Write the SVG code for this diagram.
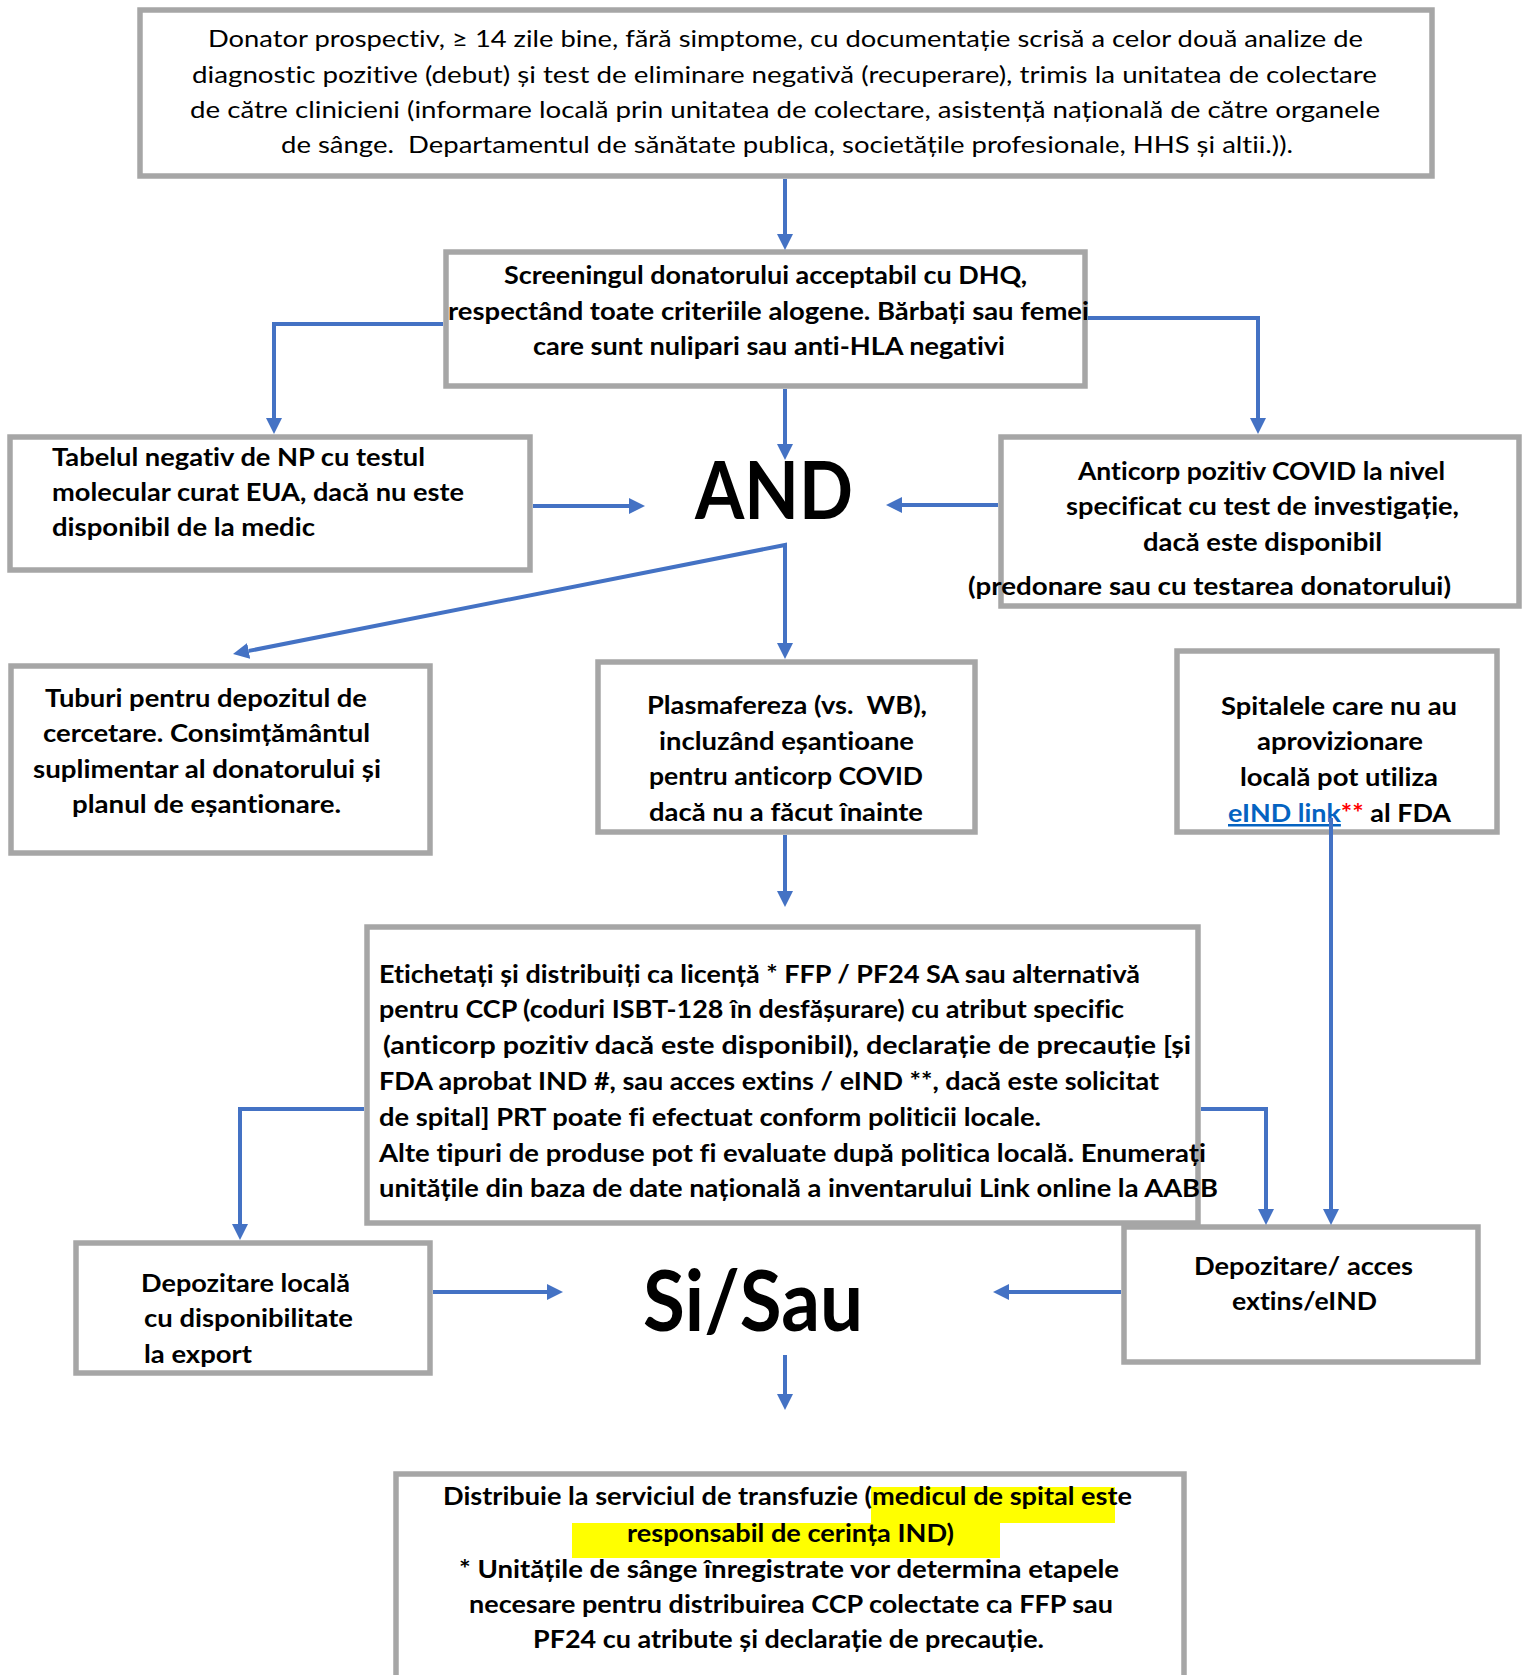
<svg xmlns="http://www.w3.org/2000/svg" width="1526" height="1675" viewBox="0 0 1526 1675">
<style>
.box{fill:#fff;stroke:#A6A6A6;stroke-width:5.5}
text{font-family:Lato,"Liberation Sans",sans-serif;fill:#000;font-variant-ligatures:none}
.r{font-size:24px;font-weight:400}
.b{font-size:25px;font-weight:700}
.big{font-weight:700}
.conn{fill:none;stroke:#4472C4;stroke-width:4;marker-end:url(#ah)}
.hl{fill:#FFFF00}
</style>
<defs>
<marker id="ah" viewBox="0 0 16 16" refX="0" refY="8" markerWidth="16" markerHeight="16" markerUnits="userSpaceOnUse" orient="auto-start-reverse">
<path d="M0,0 L16,8 L0,16 z" fill="#4472C4"/>
</marker>
</defs>
<rect width="1526" height="1675" fill="#fff"/>

<g id="n-donor">
<rect class="box" x="140" y="10" width="1292" height="166"/>
<text class="r" x="208" y="47" textLength="1155" lengthAdjust="spacingAndGlyphs">Donator prospectiv, ≥ 14 zile bine, fără simptome, cu documentație scrisă a celor două analize de</text>
<text class="r" x="192" y="83" textLength="1185" lengthAdjust="spacingAndGlyphs">diagnostic pozitive (debut) și test de eliminare negativă (recuperare), trimis la unitatea de colectare</text>
<text class="r" x="190" y="118" textLength="1190" lengthAdjust="spacingAndGlyphs">de către clinicieni (informare locală prin unitatea de colectare, asistență națională de către organele</text>
<text class="r" x="281" y="153" textLength="1012" lengthAdjust="spacingAndGlyphs" xml:space="preserve">de sânge.  Departamentul de sănătate publica, societățile profesionale, HHS și altii.)).</text>
</g>

<g id="n-screening">
<rect class="box" x="446" y="252" width="639" height="134"/>
<text class="b" x="504" y="284" textLength="523" lengthAdjust="spacingAndGlyphs">Screeningul donatorului acceptabil cu DHQ,</text>
<text class="b" x="448" y="320" textLength="641" lengthAdjust="spacingAndGlyphs">respectând toate criteriile alogene. Bărbați sau femei</text>
<text class="b" x="533" y="355" textLength="472" lengthAdjust="spacingAndGlyphs">care sunt nulipari sau anti-HLA negativi</text>
</g>

<g id="n-tabelul">
<rect class="box" x="10" y="437" width="520" height="133"/>
<text class="b" x="52" y="466" textLength="373" lengthAdjust="spacingAndGlyphs">Tabelul negativ de NP cu testul</text>
<text class="b" x="52" y="501" textLength="412" lengthAdjust="spacingAndGlyphs">molecular curat EUA, dacă nu este</text>
<text class="b" x="52" y="536" textLength="263" lengthAdjust="spacingAndGlyphs">disponibil de la medic</text>
</g>

<g id="n-and">
<text class="big" x="695" y="519" font-size="80" textLength="158" lengthAdjust="spacingAndGlyphs">AND</text>
</g>

<g id="n-anticorp">
<rect class="box" x="1001" y="437" width="518" height="169"/>
<text class="b" x="1078" y="480" textLength="367" lengthAdjust="spacingAndGlyphs">Anticorp pozitiv COVID la nivel</text>
<text class="b" x="1066" y="515" textLength="393" lengthAdjust="spacingAndGlyphs">specificat cu test de investigație,</text>
<text class="b" x="1143" y="551" textLength="239" lengthAdjust="spacingAndGlyphs">dacă este disponibil</text>
<text class="b" x="968" y="595" textLength="483" lengthAdjust="spacingAndGlyphs">(predonare sau cu testarea donatorului)</text>
</g>

<g id="n-tuburi">
<rect class="box" x="11" y="666" width="419" height="187"/>
<text class="b" x="45" y="707" textLength="322" lengthAdjust="spacingAndGlyphs">Tuburi pentru depozitul de</text>
<text class="b" x="43" y="742" textLength="327" lengthAdjust="spacingAndGlyphs">cercetare. Consimțământul</text>
<text class="b" x="33" y="778" textLength="348" lengthAdjust="spacingAndGlyphs">suplimentar al donatorului și</text>
<text class="b" x="72" y="813" textLength="269" lengthAdjust="spacingAndGlyphs">planul de eșantionare.</text>
</g>

<g id="n-plasma">
<rect class="box" x="598" y="662" width="377" height="170"/>
<text class="b" x="647" y="714" textLength="280" lengthAdjust="spacingAndGlyphs" xml:space="preserve">Plasmafereza (vs.  WB),</text>
<text class="b" x="659" y="750" textLength="255" lengthAdjust="spacingAndGlyphs">incluzând eșantioane</text>
<text class="b" x="649" y="785" textLength="274" lengthAdjust="spacingAndGlyphs">pentru anticorp COVID</text>
<text class="b" x="649" y="821" textLength="274" lengthAdjust="spacingAndGlyphs">dacă nu a făcut înainte</text>
</g>

<g id="n-spitalele">
<rect class="box" x="1177" y="651" width="320" height="181"/>
<text class="b" x="1221" y="715" textLength="236" lengthAdjust="spacingAndGlyphs">Spitalele care nu au</text>
<text class="b" x="1257" y="750" textLength="166" lengthAdjust="spacingAndGlyphs">aprovizionare</text>
<text class="b" x="1240" y="786" textLength="198" lengthAdjust="spacingAndGlyphs">locală pot utiliza</text>
<text class="b" x="1228" y="822" textLength="223" lengthAdjust="spacingAndGlyphs"><tspan fill="#0563C1" text-decoration="underline">eIND link</tspan><tspan fill="#FF0000">**</tspan> al FDA</text>
</g>

<g id="n-etichetati">
<rect class="box" x="367" y="927" width="831" height="296"/>
<text class="b" x="379" y="983" textLength="761" lengthAdjust="spacingAndGlyphs">Etichetați și distribuiți ca licență * FFP / PF24 SA sau alternativă</text>
<text class="b" x="379" y="1018" textLength="745" lengthAdjust="spacingAndGlyphs">pentru CCP (coduri ISBT-128 în desfășurare) cu atribut specific</text>
<text class="b" x="383" y="1054" textLength="808" lengthAdjust="spacingAndGlyphs">(anticorp pozitiv dacă este disponibil), declarație de precauție [și</text>
<text class="b" x="379" y="1090" textLength="780" lengthAdjust="spacingAndGlyphs">FDA aprobat IND #, sau acces extins / eIND **, dacă este solicitat</text>
<text class="b" x="379" y="1126" textLength="662" lengthAdjust="spacingAndGlyphs">de spital] PRT poate fi efectuat conform politicii locale.</text>
<text class="b" x="379" y="1162" textLength="827" lengthAdjust="spacingAndGlyphs">Alte tipuri de produse pot fi evaluate după politica locală. Enumerați</text>
<text class="b" x="379" y="1197" textLength="839" lengthAdjust="spacingAndGlyphs">unitățile din baza de date națională a inventarului Link online la AABB</text>
</g>

<g id="n-depozitare-locala">
<rect class="box" x="76" y="1243" width="354" height="130"/>
<text class="b" x="141" y="1292" textLength="209" lengthAdjust="spacingAndGlyphs">Depozitare locală</text>
<text class="b" x="144" y="1327" textLength="209" lengthAdjust="spacingAndGlyphs">cu disponibilitate</text>
<text class="b" x="144" y="1363" textLength="108" lengthAdjust="spacingAndGlyphs">la export</text>
</g>

<g id="n-sisau">
<text class="big" x="643" y="1331" font-size="85" textLength="220" lengthAdjust="spacingAndGlyphs">Si/Sau</text>
</g>

<g id="n-depozitare-acces">
<rect class="box" x="1124" y="1227" width="354" height="135"/>
<text class="b" x="1194" y="1275" textLength="219" lengthAdjust="spacingAndGlyphs">Depozitare/ acces</text>
<text class="b" x="1232" y="1310" textLength="145" lengthAdjust="spacingAndGlyphs">extins/eIND</text>
</g>

<g id="n-distribuie">
<rect class="box" x="396" y="1474" width="788" height="230"/>
<rect class="hl" x="871" y="1487" width="244" height="36"/>
<rect class="hl" x="572" y="1523" width="428" height="35"/>
<text class="b" x="443" y="1505" textLength="689" lengthAdjust="spacingAndGlyphs">Distribuie la serviciul de transfuzie (medicul de spital este</text>
<text class="b" x="627" y="1542" textLength="327" lengthAdjust="spacingAndGlyphs">responsabil de cerința IND)</text>
<text class="b" x="459" y="1578" textLength="660" lengthAdjust="spacingAndGlyphs">* Unitățile de sânge înregistrate vor determina etapele</text>
<text class="b" x="469" y="1613" textLength="644" lengthAdjust="spacingAndGlyphs">necesare pentru distribuirea CCP colectate ca FFP sau</text>
<text class="b" x="533" y="1648" textLength="511" lengthAdjust="spacingAndGlyphs">PF24 cu atribute și declarație de precauție.</text>
</g>

<g id="connectors">
<path class="conn" d="M785,179 V234"/>
<path class="conn" d="M443,324 H274 V418"/>
<path class="conn" d="M1088,318 H1258 V418"/>
<path class="conn" d="M785,389 V444"/>
<path class="conn" d="M533,506 H629"/>
<path class="conn" d="M998,505 H902"/>
<path class="conn" d="M248.7,650.9 L785,545 V643" marker-start="url(#ah)"/>
<path class="conn" d="M785,835 V891"/>
<path class="conn" d="M1331,818 V1209"/>
<path class="conn" d="M364,1109 H240 V1224"/>
<path class="conn" d="M1201,1109 H1266 V1209"/>
<path class="conn" d="M433,1292 H547"/>
<path class="conn" d="M1121,1292 H1009"/>
<path class="conn" d="M785,1355 V1394"/>
</g>
</svg>
